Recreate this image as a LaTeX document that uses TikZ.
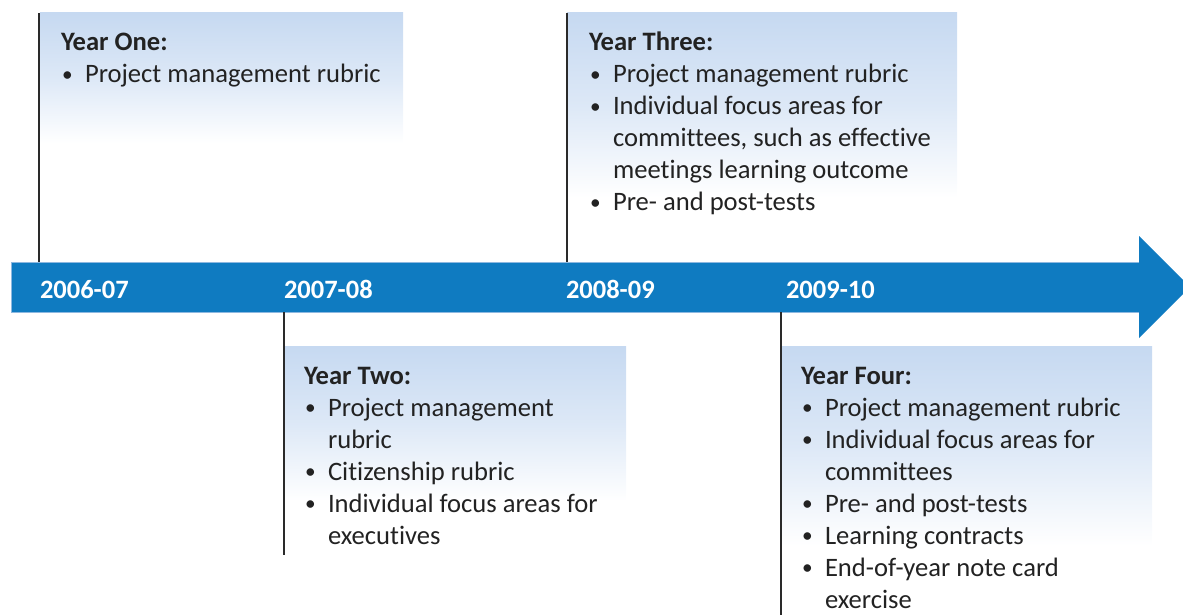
\documentclass[tikz,border=0pt]{standalone}
\usepackage{fontspec}
\setmainfont{Carlito}[Ligatures={NoCommon,NoContextual}]
\definecolor{arrowblue}{HTML}{0F7BC1}
\definecolor{arrowedge}{HTML}{8DB8E0}
\definecolor{boxblue}{HTML}{C6D9F1}
\definecolor{txtcol}{HTML}{222222}
\definecolor{linecol}{HTML}{2A2A2A}
\newcommand{\bul}{\makebox[24pt][l]{\hspace*{1pt}\raisebox{1.5pt}{\scalebox{0.8}{•}}}}
\newcommand{\cont}{\hspace*{24pt}}
\tikzset{
  yearbox/.style={anchor=north west, inner sep=0, outer sep=0, draw=none,
    top color=boxblue, bottom color=white, middle color=boxblue!60!white},
  txtnode/.style={anchor=base west, inner sep=0, outer sep=0, text=txtcol,
    font=\fontsize{26.6}{32}\selectfont},
  datelabel/.style={anchor=base west, inner sep=0, outer sep=0, text=white,
    font=\fontsize{26.5}{32}\selectfont\bfseries},
  tick/.style={draw=linecol, line width=1.3pt},
}
\begin{document}
\begin{tikzpicture}[x=1pt,y=-1pt]
\useasboundingbox (0,0) rectangle (1183,615);
\clip (0,0) rectangle (1183,615);

% arrow
\coordinate (a1) at (11,262);
\coordinate (a2) at (1139,262);
\coordinate (a3) at (1139,236);
\coordinate (a4) at (1190,287);
\coordinate (a5) at (1139,338);
\coordinate (a6) at (1139,312);
\coordinate (a7) at (11,312);
\fill[arrowblue] (a1) -- (a2) -- (a3) -- (a4) -- (a5) -- (a6) -- (a7) -- cycle;
\draw[arrowedge, line width=0.7pt] (a1) -- (a2);
\draw[arrowedge, line width=0.7pt] (a7) -- (a6);
\draw[arrowedge, line width=0.7pt] (a1) -- (a7);

% boxes
\node[yearbox, minimum width=363pt, minimum height=130pt] (b1) at (40,13) {};
\node[yearbox, minimum width=390pt, minimum height=185pt] (b3) at (567,13) {};
\node[yearbox, minimum width=342pt, minimum height=155pt] (b2) at (284,346) {};
\node[yearbox, minimum width=371pt, minimum height=200pt] (b4) at (781,346) {};

% tick lines
\coordinate (l1t) at (39,13);   \coordinate (l1b) at (39,262);
\coordinate (l3t) at (567,13);  \coordinate (l3b) at (567,262);
\coordinate (l2t) at (284,312); \coordinate (l2b) at (284,555);
\coordinate (l4t) at (781,312); \coordinate (l4b) at (781,615);
\draw[tick] (l1t) -- (l1b);
\draw[tick] (l3t) -- (l3b);
\draw[tick] (l2t) -- (l2b);
\draw[tick] (l4t) -- (l4b);

% date labels
\node[datelabel] (d1) at (40,298) {2006-07};
\node[datelabel] (d2) at (284,298) {2007-08};
\node[datelabel] (d3) at (566,298) {2008-09};
\node[datelabel] (d4) at (786,298) {2009-10};

% texts
\node[txtnode] (t1) at (61,51) {\begin{tabular}[t]{@{}l@{}}
\textbf{Year One:}\\
\bul Project management rubric
\end{tabular}};

\node[txtnode] (t3) at (589,51) {\begin{tabular}[t]{@{}l@{}}
\textbf{Year Three:}\\
\bul Project management rubric\\
\bul Individual focus areas for\\
\cont committees, such as effective\\
\cont meetings learning outcome\\
\bul Pre- and post-tests
\end{tabular}};

\node[txtnode] (t2) at (304,384) {\begin{tabular}[t]{@{}l@{}}
\textbf{Year Two:}\\
\bul Project management\\
\cont rubric\\
\bul Citizenship rubric\\
\bul Individual focus areas for\\
\cont executives
\end{tabular}};

\node[txtnode] (t4) at (801,384) {\begin{tabular}[t]{@{}l@{}}
\textbf{Year Four:}\\
\bul Project management rubric\\
\bul Individual focus areas for\\
\cont committees\\
\bul Pre- and post-tests\\
\bul Learning contracts\\
\bul End-of-year note card\\
\cont exercise
\end{tabular}};
\end{tikzpicture}
\end{document}
